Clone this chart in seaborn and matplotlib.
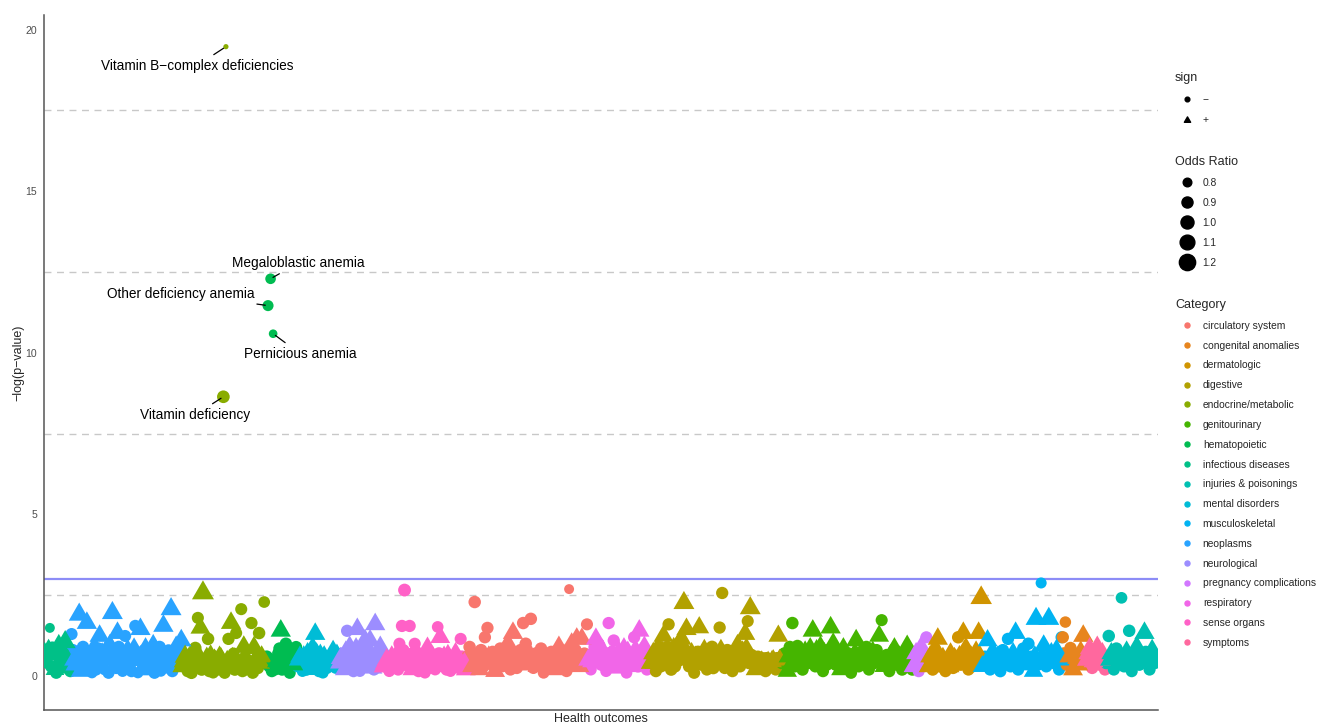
import numpy as np
import pandas as pd
import matplotlib
matplotlib.use("Agg")
import matplotlib.pyplot as plt
from matplotlib.path import Path
from matplotlib.lines import Line2D
import seaborn as sns

# ---------------- data ----------------
# "main" outcomes of each category (in x order) and the dense "bulk" outcomes
# that sit between them near the bottom of the plot.
inf_y = [0.7, 0.4, 1.49, 0.9, 0.2, 0.6, 0.8, 0.3, 1.05, 0.5, 0.15]
inf_or = [1.1, 0.92, 0.85, 0.9, 1.05, 0.88, 1.12, 0.9, 1.15, 1.08, 0.95]
inf_by = [0.5, 0.8, 0.3, 0.65, 0.1, 0.95, 0.45, 0.7, 0.25, 0.6]
inf_bor = [0.96, 1.1, 0.97, 1.08, 0.95, 1.1, 0.97, 0.96, 1.08, 0.97]

neo_y = [1.3, 0.5, 0.2, 1.9, 0.7, 0.3, 1.64, 0.6, 0.1, 0.9, 0.4, 1.24, 0.7, 0.2, 0.55,
         0.95, 1.95, 0.3, 1.33, 0.6, 0.15, 1.24, 0.8, 0.35, 0.6, 1.55, 0.1, 1.45, 0.5,
         0.85, 0.25, 0.65, 0.95, 0.3, 0.7, 0.15, 1.55, 0.5, 0.8, 2.07, 0.3, 0.9, 0.6, 1.1]
neo_or = [0.95, 1.1, 0.9, 1.15, 0.92, 1.1, 1.12, 0.93, 0.9, 1.1, 0.94, 1.12, 1.08, 0.92, 0.95,
          1.1, 1.15, 1.1, 1.12, 0.93, 0.92, 0.95, 1.1, 0.94, 1.08, 0.96, 0.9, 1.12, 1.1,
          1.1, 0.93, 1.1, 1.1, 0.92, 1.1, 0.9, 1.12, 1.08, 0.94, 1.15, 0.92, 1.1, 1.1, 1.12]
neo_by = [0.8, 0.35, 0.6, 0.15, 0.9, 0.45, 0.3, 0.75, 0.55, 0.2, 0.85, 0.4, 0.65, 0.8, 0.1,
          0.5, 0.7, 0.25, 0.9, 0.4, 0.6, 0.3, 0.75, 0.15, 0.85, 0.5, 0.65, 0.2, 0.8, 0.45,
          0.35, 0.7, 0.1, 0.6, 0.9, 0.4, 0.25, 0.75, 0.55, 0.15, 0.65, 0.35, 0.8]
neo_bor = [0.97, 1.1, 0.96, 1.08, 0.97, 0.96, 1.1, 0.97, 1.08, 0.96, 0.97, 1.1, 0.96, 1.08, 0.95,
           0.97, 1.1, 0.96, 0.97, 1.08, 0.96, 1.1, 0.97, 0.95, 1.08, 0.96, 0.97, 1.1, 0.96, 1.08,
           0.97, 0.96, 0.95, 1.1, 0.97, 0.96, 1.08, 0.97, 1.1, 0.95, 0.96, 1.08, 0.97]

endo_y = [0.3, 0.6, 0.15, 0.4, 0.2, 0.87, 1.8, 1.49, 2.57, 0.3, 1.15, 0.6, 0.1, 0.45, 0.2,
          0.55, 8.64, 19.47, 1.15, 1.64, 0.7, 1.33, 0.3, 2.07, 0.9, 0.5, 0.2, 1.64, 0.87,
          0.4, 1.33, 0.6, 2.29]
endo_or = [1.12, 1.15, 0.95, 1.18, 0.94, 0.97, 0.95, 1.1, 1.2, 0.93, 0.97, 1.18, 0.92, 1.12, 0.95,
           1.1, 0.98, 0.70, 0.96, 1.12, 0.94, 0.95, 1.1, 0.95, 1.12, 0.93, 1.1, 0.96, 1.15,
           0.95, 0.97, 1.1, 0.93]
endo_by = [0.45, 0.25, 0.55, 0.1, 0.5, 0.3, 0.6, 0.2, 0.4, 0.55, 0.15, 0.35, 0.5, 0.25, 0.6,
           0.4, 0.1, 0.45, 0.3, 0.55, 0.2, 0.5, 0.35, 0.15, 0.6, 0.3, 0.45, 0.1, 0.5, 0.25,
           0.4, 0.55]
endo_bor = [1.12, 0.96, 1.1, 0.97, 1.15, 0.96, 1.1, 0.97, 0.96, 1.12, 0.95, 0.97, 1.1, 0.96, 1.08,
            0.97, 0.95, 1.12, 0.96, 1.1, 0.97, 0.96, 1.1, 0.95, 1.12, 0.97, 0.96, 0.95, 1.1, 0.97,
            1.08, 0.96]

hema_y = [0.4, 11.46, 12.29, 10.59, 0.2, 0.7, 1.4, 0.5, 1.0, 0.25, 0.8, 0.35, 0.9]
hema_or = [0.94, 0.9, 0.88, 0.80, 0.92, 0.96, 1.12, 1.1, 0.97, 0.95, 0.96, 1.08, 0.95]
hema_by = [0.6, 0.3, 0.15, 0.5, 0.45, 0.85, 0.2, 0.6, 0.55, 0.1, 0.65, 0.5]
hema_bor = [0.97, 0.96, 0.95, 0.97, 1.1, 0.97, 0.96, 1.08, 0.97, 0.95, 1.1, 0.97]

ment_y = [0.3, 0.6, 0.15, 0.45, 0.7, 0.2, 0.87, 1.3, 0.4, 0.65, 0.1, 0.5, 0.3, 0.6, 0.77, 0.25, 0.55]
ment_or = [0.93, 1.08, 0.92, 0.95, 1.1, 1.05, 1.1, 1.12, 0.94, 1.1, 0.92, 0.95, 1.08, 0.94, 1.1, 0.93, 1.08]
ment_by = [0.5, 0.35, 0.6, 0.2, 0.45, 0.55, 0.3, 0.7, 0.15, 0.4, 0.6, 0.25, 0.5, 0.35, 0.45, 0.65]
ment_bor = [1.08, 0.96, 1.1, 0.97, 0.96, 1.1, 0.97, 1.08, 0.95, 0.97, 1.1, 0.96, 0.97, 1.08, 0.96, 1.1]

neur_y = [0.4, 0.7, 0.2, 1.4, 0.9, 0.3, 0.6, 1.45, 0.15, 0.8, 1.1, 0.45, 1.1, 0.25, 1.6, 0.7, 0.9, 0.35]
neur_or = [1.05, 0.95, 1.08, 0.96, 1.1, 0.93, 1.1, 1.12, 0.92, 1.12, 1.12, 0.95, 1.1, 1.08, 1.12, 0.95, 1.1, 0.94]
neur_by = [0.55, 0.3, 0.75, 0.5, 0.6, 0.15, 0.85, 0.4, 0.55, 0.7, 0.3, 0.8, 0.5, 0.2, 0.6, 0.45, 0.65]
neur_bor = [1.1, 0.96, 1.1, 0.97, 1.08, 0.95, 1.1, 0.97, 1.1, 1.08, 0.96, 1.1, 0.97, 0.95, 1.1, 0.97, 1.08]

sens_y = [0.3, 0.5, 0.15, 0.6, 0.25, 0.45, 1.0, 1.55, 2.66, 0.7, 1.55, 0.2, 1.0, 0.55, 0.3,
          0.65, 0.1, 0.87, 0.4, 0.6, 0.2, 1.52, 1.2, 0.5, 0.3, 0.65, 0.15, 0.45, 0.7, 0.25,
          1.15, 0.4, 0.2]
sens_or = [1.15, 1.12, 0.93, 1.1, 0.95, 1.1, 0.95, 0.96, 0.99, 0.94, 0.96, 1.08, 0.95, 0.93, 1.1,
           0.94, 0.92, 1.1, 0.95, 1.08, 0.93, 0.93, 1.1, 1.1, 0.94, 1.08, 0.92, 0.95, 1.1, 1.08,
           0.95, 0.94, 1.1]
sens_by = [0.4, 0.25, 0.45, 0.35, 0.6, 0.2, 0.5, 0.8, 0.45, 0.3, 0.55, 0.4, 0.75, 0.15, 0.5,
           0.35, 0.6, 0.25, 0.45, 0.55, 0.3, 0.7, 0.4, 0.6, 0.2, 0.5, 0.35, 0.55, 0.45, 0.3,
           0.6, 0.4]
sens_bor = [1.15, 0.96, 1.12, 0.97, 1.1, 0.95, 1.12, 0.97, 1.1, 0.96, 1.12, 0.97, 0.97, 0.95, 1.12,
            0.96, 1.1, 0.97, 1.12, 0.96, 1.1, 0.97, 1.12, 1.08, 0.96, 1.1, 0.97, 1.12, 0.96, 1.1,
            0.97, 1.08]

circ_y = [0.6, 0.9, 0.3, 2.29, 0.7, 0.2, 0.5, 1.2, 1.49, 0.4, 0.75, 0.15, 0.55, 0.85, 0.3,
          0.6, 1.0, 0.2, 1.33, 0.7, 0.4, 0.8, 1.64, 1.0, 0.5, 1.77, 0.25, 0.7, 0.45, 0.85,
          0.1, 0.6, 0.35, 0.75, 0.2, 0.55, 0.9, 0.3, 0.65, 0.15, 2.69, 1.0, 0.5, 1.15, 0.3,
          1.15, 0.7, 1.6]
circ_or = [0.95, 0.97, 1.1, 0.97, 0.96, 1.08, 0.95, 0.96, 0.96, 0.97, 0.96, 1.1, 0.95, 0.97, 0.94,
           1.1, 1.1, 0.95, 1.12, 0.97, 0.96, 0.98, 0.97, 0.97, 1.1, 0.97, 0.95, 0.97, 1.08, 0.97,
           0.93, 0.97, 1.1, 0.96, 1.08, 0.96, 1.1, 0.95, 1.1, 0.94, 0.85, 1.1, 0.96, 1.12, 1.1,
           1.1, 0.95, 0.95]
circ_by = [0.45, 0.65, 0.5, 0.35, 0.55, 0.8, 0.3, 0.65, 0.6, 0.55, 0.3, 0.7, 0.45, 0.6, 0.8,
           0.4, 0.5, 0.75, 0.55, 0.25, 0.65, 0.5, 0.35, 0.8, 0.6, 0.45, 0.55, 0.3, 0.7, 0.5,
           0.65, 0.4, 0.55, 0.45, 0.75, 0.3, 0.6, 0.5, 0.4, 0.7, 0.35, 0.6, 0.8, 0.5, 0.45,
           0.55, 0.35]
circ_bor = [0.97, 0.98, 0.96, 1.1, 0.97, 0.98, 0.96, 0.97, 1.08, 0.98, 0.96, 0.97, 1.1, 0.98, 0.97,
            0.96, 0.98, 1.08, 0.97, 0.96, 0.98, 0.97, 1.1, 0.97, 0.98, 0.96, 0.97, 1.08, 0.98, 0.97,
            0.96, 0.98, 0.97, 1.1, 0.98, 0.96, 0.97, 0.98, 1.08, 0.97, 0.96, 0.98, 0.97, 1.1, 0.96,
            0.98, 0.97]

resp_y = [0.5, 0.2, 0.7, 1.15, 1.0, 0.35, 0.6, 0.15, 1.64, 0.45, 1.1, 0.25, 0.75, 0.4, 0.85,
          0.1, 0.55, 0.3, 1.2, 0.7, 1.4, 0.5, 0.9, 0.2, 0.6]
resp_or = [1.1, 0.94, 1.08, 1.1, 0.96, 0.95, 1.1, 0.93, 0.96, 0.95, 0.96, 1.08, 1.1, 0.95, 1.1,
           0.93, 0.96, 1.1, 0.96, 1.1, 1.12, 0.96, 1.1, 0.95, 0.97]
resp_by = [0.35, 0.45, 0.9, 0.6, 0.55, 0.8, 0.3, 0.7, 0.6, 0.75, 0.5, 0.35, 0.6, 0.55, 0.4,
           0.75, 0.65, 0.45, 0.8, 0.3, 0.7, 0.6, 0.4, 0.5]
resp_bor = [0.96, 1.1, 0.97, 1.08, 0.96, 1.1, 0.97, 0.96, 1.1, 0.97, 1.08, 0.96, 0.97, 1.1, 0.96,
            1.08, 0.97, 0.96, 1.1, 0.97, 1.08, 0.96, 0.97, 1.1]

dig_y = [0.4, 0.7, 0.15, 0.9, 0.3, 1.24, 0.6, 1.6, 0.2, 0.85, 0.45, 1.0, 1.15, 2.26, 1.45,
         0.3, 0.7, 0.1, 0.55, 1.5, 0.35, 0.8, 0.2, 0.6, 0.9, 0.4, 0.7, 1.5, 2.57, 0.25,
         0.8, 0.5, 0.15, 0.65, 0.95, 0.3, 0.75, 1.3, 1.7, 2.1, 0.5, 0.2, 0.6, 0.35, 0.55,
         0.15, 0.45, 0.3, 0.5, 0.2, 1.24, 0.4]
dig_or = [1.1, 1.12, 0.95, 1.1, 0.96, 1.1, 1.12, 0.96, 0.97, 1.12, 0.97, 1.1, 1.12, 1.15, 1.12,
          0.96, 1.1, 0.95, 0.97, 1.1, 0.96, 1.1, 0.95, 0.97, 0.98, 1.08, 0.97, 0.96, 0.96, 0.96,
          0.98, 1.1, 0.95, 0.97, 1.1, 0.96, 1.1, 1.12, 0.95, 1.15, 0.97, 1.08, 0.96, 1.05, 0.96,
          0.95, 1.05, 0.96, 1.05, 0.95, 1.1, 0.96]
dig_by = [0.55, 0.4, 0.6, 0.5, 0.75, 0.35, 0.9, 0.45, 0.6, 0.3, 0.7, 0.5, 0.65, 0.8, 0.55,
          0.45, 0.35, 0.6, 0.75, 0.5, 0.65, 0.4, 0.55, 0.7, 0.25, 0.6, 0.45, 0.8, 0.5, 0.55,
          0.35, 0.65, 0.45, 0.7, 0.5, 0.55, 0.6, 0.85, 0.4, 0.65, 0.45, 0.4, 0.5, 0.45, 0.35,
          0.55, 0.4, 0.45, 0.35, 0.55, 0.5]
dig_bor = [0.97, 1.1, 0.98, 0.96, 1.08, 0.97, 0.98, 1.1, 0.96, 0.97, 1.08, 0.98, 0.96, 1.1, 0.97,
           0.98, 0.96, 1.08, 0.97, 0.98, 1.1, 0.96, 0.97, 1.08, 0.98, 0.96, 0.97, 1.1, 0.98, 0.96,
           1.08, 0.97, 0.98, 0.96, 1.1, 0.97, 0.98, 1.08, 0.96, 0.97, 1.1, 0.98, 0.96, 1.08, 0.97,
           0.98, 0.96, 1.1, 0.97, 0.98, 1.08]

gen_y = [0.4, 0.7, 0.15, 0.9, 1.64, 0.3, 0.93, 0.55, 0.2, 0.75, 0.4, 0.85, 1.4, 0.3, 0.6,
         0.9, 0.15, 0.5, 0.8, 1.5, 1.0, 0.35, 0.65, 0.2, 0.85, 0.45, 0.7, 0.1, 0.55, 1.1,
         0.3, 0.75, 0.5, 0.9, 0.2, 0.6, 0.4, 0.8, 1.24, 1.73, 0.3, 0.65, 0.15, 0.5, 0.85,
         0.35, 0.6, 0.2, 0.7, 0.93, 0.4, 0.2]
gen_or = [0.97, 0.98, 1.08, 0.97, 0.97, 0.96, 0.97, 1.1, 0.96, 1.1, 0.97, 1.1, 1.12, 0.96, 0.97,
          1.1, 0.95, 1.08, 0.97, 1.12, 1.1, 0.96, 0.97, 1.08, 1.1, 0.97, 0.96, 0.95, 1.1, 1.12,
          0.96, 0.97, 1.08, 0.97, 0.95, 1.1, 0.97, 0.97, 1.1, 0.95, 1.08, 0.97, 0.95, 0.96, 1.1,
          0.97, 1.08, 0.96, 0.97, 1.1, 1.1, 0.96]
gen_by = [0.55, 0.45, 0.6, 0.5, 0.65, 0.6, 0.4, 0.35, 0.6, 0.55, 0.7, 0.45, 0.6, 0.8, 0.4,
          0.55, 0.7, 0.35, 0.55, 0.6, 0.75, 0.5, 0.45, 0.6, 0.3, 0.55, 0.4, 0.65, 0.7, 0.5,
          0.55, 0.35, 0.7, 0.5, 0.4, 0.75, 0.6, 0.55, 0.5, 0.45, 0.6, 0.4, 0.65, 0.7, 0.5,
          0.45, 0.55, 0.4, 0.6, 0.65, 0.5]
gen_bor = [0.98, 0.97, 1.1, 0.97, 0.98, 1.08, 0.97, 0.96, 0.98, 1.1, 0.97, 0.98, 0.96, 1.08, 0.97,
           0.98, 1.1, 0.96, 0.97, 0.98, 1.08, 0.97, 0.96, 0.98, 1.1, 0.97, 0.98, 0.96, 1.08, 0.97,
           0.98, 1.1, 0.97, 0.96, 0.98, 1.08, 0.97, 0.98, 0.96, 1.1, 0.97, 0.98, 1.08, 0.96, 0.97,
           0.98, 1.1, 0.97, 0.96, 0.98, 1.08]

preg_y = [0.3, 0.7, 0.15, 0.9, 0.5, 1.2]
preg_or = [1.1, 1.1, 0.95, 1.08, 0.96, 0.95]
preg_by = [0.55, 0.4, 0.6, 0.7, 0.35]
preg_bor = [0.96, 1.1, 0.97, 1.1, 0.96]

derm_y = [0.4, 0.6, 0.2, 0.85, 1.15, 0.3, 0.55, 0.15, 0.45, 0.7, 0.25, 0.5, 1.2, 0.35,
          1.33, 0.85, 0.2, 0.6, 0.4, 0.75, 1.33, 2.42]
derm_or = [0.96, 1.1, 0.96, 1.1, 1.12, 0.97, 1.1, 0.95, 0.97, 1.08, 0.96, 1.1, 0.97, 0.96,
           1.12, 1.12, 0.95, 1.1, 0.96, 1.1, 1.12, 1.18]
derm_by = [0.3, 0.45, 0.5, 0.4, 0.6, 0.45, 0.35, 0.5, 0.3, 0.45, 0.55, 0.35, 0.6, 0.5, 0.4,
           0.5, 0.45, 0.3, 0.55, 0.5, 0.6]
derm_bor = [1.12, 0.97, 1.1, 0.96, 1.12, 0.97, 1.1, 0.96, 1.12, 0.97, 1.1, 0.96, 1.12, 0.97, 1.1,
            0.96, 1.12, 0.97, 1.1, 0.96, 1.12]

musc_y = [0.3, 0.6, 1.1, 0.2, 0.75, 0.4, 0.6, 0.15, 0.8, 0.45, 1.15, 0.3, 0.7, 1.33, 0.2,
          0.55, 0.85, 0.35, 1.0, 0.6, 0.15, 1.77, 0.5, 2.88, 0.93, 0.3, 1.77, 0.7, 0.4, 0.8,
          0.2, 1.2]
musc_or = [1.08, 0.96, 1.1, 0.95, 1.1, 0.97, 1.08, 0.96, 0.97, 1.1, 0.96, 0.96, 1.1, 1.12, 0.95,
           1.1, 0.97, 1.08, 0.97, 0.96, 1.08, 1.15, 0.96, 0.9, 1.12, 0.96, 1.15, 1.1, 0.96, 1.1,
           0.95, 0.95]
musc_by = [0.5, 0.4, 0.55, 0.45, 0.6, 0.3, 0.45, 0.55, 0.35, 0.6, 0.5, 0.45, 0.55, 0.65, 0.4,
           0.6, 0.5, 0.55, 0.4, 0.45, 0.6, 0.35, 0.55, 0.6, 0.45, 0.5, 0.6, 0.55, 0.45, 0.6, 0.5]
musc_bor = [0.97, 1.1, 0.96, 0.98, 1.08, 0.97, 0.96, 1.1, 0.98, 0.97, 1.08, 0.96, 0.98, 0.97, 1.1,
            0.96, 0.98, 1.08, 0.97, 0.96, 1.1, 0.98, 0.97, 1.08, 0.96, 0.98, 0.97, 1.1, 0.96, 0.98,
            1.08]

cong_y = [1.2, 1.67, 0.5, 0.87, 0.2, 0.6, 0.35, 0.75, 1.24, 0.4]
cong_or = [0.96, 0.92, 0.97, 0.96, 1.1, 0.96, 1.1, 1.1, 1.12, 0.96]
cong_by = [0.7, 0.35, 0.6, 0.45, 0.4, 0.55, 0.5, 0.6, 0.55]
cong_bor = [0.97, 0.96, 1.1, 0.97, 0.96, 1.08, 0.97, 0.96, 1.1]

symp_y = [0.5, 0.85, 0.25, 0.6, 0.9, 0.35, 0.7, 0.2]
symp_or = [1.12, 1.1, 0.96, 1.12, 1.1, 0.96, 1.1, 0.95]
symp_by = [0.7, 0.55, 0.45, 0.75, 0.6, 0.5, 0.45]
symp_bor = [1.1, 1.12, 1.1, 0.97, 1.12, 1.1, 0.96]

inj_y = [0.4, 1.24, 0.7, 0.2, 0.85, 0.5, 2.42, 0.3, 0.75, 1.4, 0.15, 0.6, 0.9, 0.35, 0.7,
         1.33, 0.5, 0.2, 0.8, 0.4, 0.6]
inj_or = [0.96, 0.97, 1.1, 0.95, 0.97, 1.08, 0.93, 0.96, 1.1, 0.97, 0.95, 0.97, 1.1, 0.96, 0.97,
          1.12, 1.1, 0.95, 1.1, 0.96, 0.97]
inj_by = [0.6, 0.5, 0.45, 0.55, 0.65, 0.7, 0.5, 0.55, 0.6, 0.45, 0.4, 0.7, 0.55, 0.6, 0.5,
          0.75, 0.45, 0.55, 0.6, 0.5]
inj_bor = [0.97, 1.1, 0.96, 0.98, 1.08, 0.97, 0.96, 1.1, 0.98, 0.97, 1.08, 0.96, 0.98, 0.97, 1.1,
           0.96, 0.98, 1.08, 0.97, 0.96]

category_names = ["circulatory system", "congenital anomalies", "dermatologic", "digestive",
                  "endocrine/metabolic", "genitourinary", "hematopoietic", "infectious diseases",
                  "injuries & poisonings", "mental disorders", "musculoskeletal", "neoplasms",
                  "neurological", "pregnancy complications", "respiratory", "sense organs",
                  "symptoms"]

label_texts = ["Vitamin B\u2212complex deficiencies", "Megaloblastic anemia",
               "Other deficiency anemia", "Pernicious anemia", "Vitamin deficiency"]
label_cats = ["endocrine/metabolic", "hematopoietic", "hematopoietic", "hematopoietic",
              "endocrine/metabolic"]
label_index = [17, 2, 1, 3, 16]

or_breaks = [0.8, 0.9, 1.0, 1.1, 1.2]
bonferroni = 3.0

# ---------------- assemble ----------------
segments = [("infectious diseases", inf_y, inf_or, inf_by, inf_bor),
            ("neoplasms", neo_y, neo_or, neo_by, neo_bor),
            ("endocrine/metabolic", endo_y, endo_or, endo_by, endo_bor),
            ("hematopoietic", hema_y, hema_or, hema_by, hema_bor),
            ("mental disorders", ment_y, ment_or, ment_by, ment_bor),
            ("neurological", neur_y, neur_or, neur_by, neur_bor),
            ("sense organs", sens_y, sens_or, sens_by, sens_bor),
            ("circulatory system", circ_y, circ_or, circ_by, circ_bor),
            ("respiratory", resp_y, resp_or, resp_by, resp_bor),
            ("digestive", dig_y, dig_or, dig_by, dig_bor),
            ("genitourinary", gen_y, gen_or, gen_by, gen_bor),
            ("pregnancy complications", preg_y, preg_or, preg_by, preg_bor),
            ("dermatologic", derm_y, derm_or, derm_by, derm_bor),
            ("musculoskeletal", musc_y, musc_or, musc_by, musc_bor),
            ("congenital anomalies", cong_y, cong_or, cong_by, cong_bor),
            ("symptoms", symp_y, symp_or, symp_by, symp_bor),
            ("injuries & poisonings", inj_y, inj_or, inj_by, inj_bor)]
rows = []
for cat, ys, ors, bys, bors in segments:
    bulk = list(zip(bys, bors))
    for k, (yv, ov) in enumerate(zip(ys, ors)):
        rows.append({"category": cat, "k": k, "y": yv, "OR": ov})
        if k < len(bulk):
            rows.append({"category": cat, "k": -1, "y": bulk[k][0], "OR": bulk[k][1]})
df = pd.DataFrame(rows)
df["sign"] = np.where(df["OR"] >= 1, "+", "\u2212")
df["x"] = np.arange(len(df))


def hcl_hex(h, c=100.0, l=65.0):
    hr = np.deg2rad(h)
    u, v = c * np.cos(hr), c * np.sin(hr)
    Xn, Yn, Zn = 0.95047, 1.0, 1.08883
    un = 4 * Xn / (Xn + 15 * Yn + 3 * Zn)
    vn = 9 * Yn / (Xn + 15 * Yn + 3 * Zn)
    Y = ((l + 16) / 116) ** 3
    up = u / (13 * l) + un
    vp = v / (13 * l) + vn
    X = 9 * Y * up / (4 * vp)
    Z = -X / 3 - 5 * Y + 3 * Y / vp
    r = 3.2404542 * X - 1.5371385 * Y - 0.4985314 * Z
    g = -0.9692660 * X + 1.8760108 * Y + 0.0415560 * Z
    b = 0.0556434 * X - 0.2040259 * Y + 1.0572252 * Z
    out = []
    for ch in (r, g, b):
        ch = 12.92 * ch if ch <= 0.0031308 else 1.055 * ch ** (1 / 2.4) - 0.055
        out.append(min(max(ch, 0), 1))
    return matplotlib.colors.to_hex(out)


n = len(category_names)
palette = {cat: hcl_hex(15 + 360 * i / n) for i, cat in enumerate(category_names)}

# ---------------- plot ----------------
sns.set_theme(style="white")
plt.rcParams["font.family"] = ["Liberation Sans", "DejaVu Sans"]

fig = plt.figure(figsize=(13.17, 7.25), dpi=100)
ax = fig.add_axes([44 / 1317, 15 / 725, 1114 / 1317, 695 / 725])

tri = Path([(0, 1), (-0.866, -0.5), (0.866, -0.5), (0, 1)],
           [Path.MOVETO, Path.LINETO, Path.LINETO, Path.CLOSEPOLY])

size_norm = (0.7, 1.25)
circ_sizes = (14.0, 150.0)
tri_sizes = (circ_sizes[0] * 2.42, circ_sizes[1] * 2.42)

ax.axhline(bonferroni, color="#8c8cf6", lw=1.6, zorder=1)

sns.scatterplot(data=df[df["sign"] != "+"], x="x", y="y", hue="category",
                palette=palette, size="OR", sizes=circ_sizes, size_norm=size_norm,
                marker="o", linewidth=0, legend=False, ax=ax, zorder=3)
sns.scatterplot(data=df[df["sign"] == "+"], x="x", y="y", hue="category",
                palette=palette, size="OR", sizes=tri_sizes, size_norm=size_norm,
                marker=tri, linewidth=0, legend=False, ax=ax, zorder=3)

ax.set_xlim(-0.6, len(df) - 0.4)
ax.set_ylim(-1.05, 20.45)
ax.set_xticks([])
ax.set_yticks([0, 5, 10, 15, 20])
ax.set_yticks([2.5, 7.5, 12.5, 17.5], minor=True)
ax.grid(False)
ax.grid(True, which="minor", axis="y", color="#c8c8c8", lw=1.0, ls=(0, (5, 4)))
ax.tick_params(axis="y", which="both", length=0, pad=5, labelsize=7.6, labelcolor="#4d4d4d")
for s in ["top", "right"]:
    ax.spines[s].set_visible(False)
for s in ["left", "bottom"]:
    ax.spines[s].set_color("#555555")
    ax.spines[s].set_linewidth(1.1)
ax.set_xlabel("Health outcomes", fontsize=9, labelpad=2)
ax.set_ylabel("\u2212log(p\u2212value)", fontsize=9, labelpad=0.5)

# labels (repel-like offsets in pixels)
label_offsets = [(-29, -19), (28, 16), (-87, 12), (27, -20), (-28, -18)]
for txt, cat, k, (dx, dy) in zip(label_texts, label_cats, label_index, label_offsets):
    r = df[(df["category"] == cat) & (df["k"] == k)].iloc[0]
    ax.annotate(txt, xy=(r["x"], r["y"]), xytext=(dx, dy), textcoords="offset pixels",
                ha="center", va="center", fontsize=9.8, color="black", zorder=5,
                arrowprops=dict(arrowstyle="-", color="black", lw=0.9, shrinkA=1, shrinkB=2))

# legends
common = dict(frameon=False, loc="upper left", bbox_transform=fig.transFigure,
              borderpad=0, borderaxespad=0, handlelength=2.3, handletextpad=0.4,
              fontsize=7.4, title_fontsize=9, alignment="left")

sign_h = [Line2D([], [], ls="", marker="o", color="black", markersize=3.4),
          Line2D([], [], ls="", marker=tri, color="black", markersize=5.2)]
leg1 = ax.legend(sign_h, ["\u2212", "+"], title="sign", labelspacing=1.04,
                 bbox_to_anchor=(1175 / 1317, 1 - 72 / 725), **common)
ax.add_artist(leg1)

or_h = []
for b in or_breaks:
    s = circ_sizes[0] + (b - size_norm[0]) / (size_norm[1] - size_norm[0]) * (circ_sizes[1] - circ_sizes[0])
    or_h.append(Line2D([], [], ls="", marker="o", color="black", markersize=np.sqrt(s)))
leg2 = ax.legend(or_h, [f"{b:.1f}" for b in or_breaks], title="Odds Ratio", labelspacing=0.97,
                 bbox_to_anchor=(1175 / 1317, 1 - 156 / 725), **common)
ax.add_artist(leg2)

cat_h = [Line2D([], [], ls="", marker="o", color=palette[c], markersize=3.6) for c in category_names]
leg3 = ax.legend(cat_h, category_names, title="Category", labelspacing=0.955,
                 bbox_to_anchor=(1175 / 1317, 1 - 299 / 725), **common)

fig.savefig("out.png", dpi=100, facecolor="white")
